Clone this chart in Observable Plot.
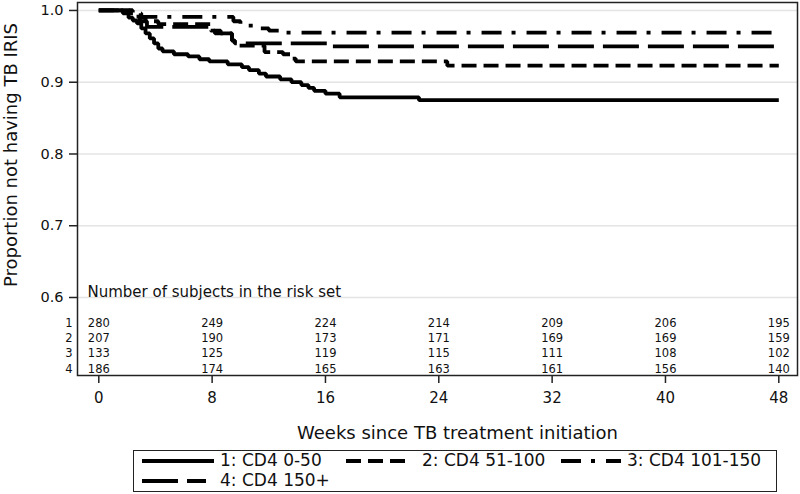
<!DOCTYPE html>
<html>
<head>
<meta charset="utf-8">
<script src="https://cdn.jsdelivr.net/npm/d3@7"></script>
<script src="https://cdn.jsdelivr.net/npm/@observablehq/plot@0.6"></script>
<style>
  html, body { margin: 0; padding: 0; background: #fff; }
  body { width: 800px; height: 494px; overflow: hidden; position: relative; font-family: "DejaVu Sans", sans-serif; }
  #legend {
    position: absolute; left: 133px; top: 450px; width: 642px; height: 40px;
    border: 1.5px solid #222;
    font-family: "DejaVu Sans", sans-serif; font-size: 17px; color: #111;
  }
  .sw { position: absolute; }
  .lt { position: absolute; line-height: 17px; white-space: nowrap; }
</style>
</head>
<body>
<div id="chart"></div>
<div id="legend"></div>
<script>
// ---- data ----
const groups = ["1: CD4 0-50", "2: CD4 51-100", "3: CD4 101-150", "4: CD4 150+"];
const xTicks = [0, 8, 16, 24, 32, 40, 48];
const yTicks = [0.6, 0.7, 0.8, 0.9, 1.0];

// Kaplan-Meier step curves (weeks, proportion not having TB IRIS)
const t1 = [0, 1.7, 2.1, 2.4, 2.7, 3.0, 3.3, 3.6, 3.9, 4.2, 4.5, 5.3, 6.3, 7.1, 7.8, 9.1, 10.1, 10.6, 11.3, 11.8, 12.8, 13.6, 14.3, 14.8, 15.2, 16.0, 17.0, 22.6, 48];
const s1 = [1, 0.996, 0.99, 0.986, 0.982, 0.975, 0.968, 0.961, 0.954, 0.947, 0.943, 0.939, 0.936, 0.932, 0.929, 0.925, 0.921, 0.917, 0.912, 0.908, 0.904, 0.900, 0.896, 0.892, 0.888, 0.884, 0.879, 0.875, 0.875];
const t2 = [0, 2.2, 2.8, 3.3, 4.2, 7.9, 8.6, 9.4, 9.6, 11.7, 13.0, 13.6, 13.9, 24.6, 48];
const s2 = [1, 0.996, 0.99, 0.985, 0.981, 0.972, 0.968, 0.958, 0.951, 0.942, 0.939, 0.933, 0.929, 0.923, 0.923];
const t3 = [0, 2.5, 3.0, 9.5, 10.0, 11.0, 12.0, 13.2, 48];
const s3 = [1, 0.996, 0.991, 0.985, 0.979, 0.975, 0.972, 0.969, 0.969];
const t4 = [0, 2.4, 2.9, 3.4, 7.8, 8.2, 9.4, 9.6, 16.4, 48];
const s4 = [1, 0.993, 0.985, 0.977, 0.972, 0.968, 0.958, 0.954, 0.950, 0.950];

// Number at risk
const riskWeeks = [0, 8, 16, 24, 32, 40, 48];
const risk1 = [280, 249, 224, 214, 209, 206, 195];
const risk2 = [207, 190, 173, 171, 169, 169, 159];
const risk3 = [133, 125, 119, 115, 111, 108, 102];
const risk4 = [186, 174, 165, 163, 161, 156, 140];
const riskLabels = ["1", "2", "3", "4"];

// ---- styles ----
const dashes = [null, "15,7", "20,10,4,11", "36,9"];
const lineW = 3.8;

const series = [[t1, s1], [t2, s2], [t3, s3], [t4, s4]].map(([t, s], i) =>
  t.map((w, j) => ({week: w, surv: s[j], group: groups[i]})));
const riskRows = [risk1, risk2, risk3, risk4].map(r => riskWeeks.map((w, j) => ({week: w, n: r[j]})));
const rowDy = [-52.2, -36.8, -21.8, -6.2];

const font = "DejaVu Sans, sans-serif";

const marks = [
  Plot.ruleY(yTicks, {stroke: "#e4e4e4", strokeWidth: 1.5}),
  Plot.axisX(xTicks, {tickSize: 8, tickPadding: 9, fontSize: 15, label: null, stroke: "#222", strokeWidth: 1.5}),
  Plot.axisY(yTicks, {tickSize: 8, tickPadding: 6, fontSize: 14.5, label: null, tickFormat: ".1f", stroke: "#222", strokeWidth: 1.5}),
  Plot.text(["Number of subjects in the risk set"], {frameAnchor: "bottom-left", dx: 10, dy: -83.1, textAnchor: "start", lineAnchor: "middle", fontSize: 15, fill: "#111"}),
  ...riskRows.map((rows, i) => Plot.text(rows, {x: "week", text: d => String(d.n), frameAnchor: "bottom", dy: rowDy[i], lineAnchor: "middle", fontSize: 11.5, fill: "#111"})),
  ...riskLabels.map((lab, i) => Plot.text([lab], {frameAnchor: "bottom-left", dx: -5, dy: rowDy[i], textAnchor: "end", lineAnchor: "middle", fontSize: 11.5, fill: "#111"})),
  Plot.text(["Weeks since TB treatment initiation"], {frameAnchor: "bottom", dx: 20, dy: 57.5, textAnchor: "middle", lineAnchor: "middle", fontSize: 18, fill: "#111"}),
  Plot.text(["Proportion not having TB IRIS"], {frameAnchor: "left", dx: -66.5, dy: -34, rotate: -90, textAnchor: "middle", lineAnchor: "middle", fontSize: 18, fill: "#111"}),
  ...[3, 2, 1, 0].map(i => Plot.line(series[i], {x: "week", y: "surv", curve: "step-after", stroke: "#000", strokeWidth: lineW, strokeDasharray: dashes[i], strokeLinecap: "butt", strokeLinejoin: "miter"})),
  Plot.frame({stroke: "#222", strokeWidth: 1.5})
];

const chart = Plot.plot({
  width: 800,
  height: 448,
  marginLeft: 77,
  marginRight: 3,
  marginTop: 2,
  marginBottom: 73,
  style: {fontFamily: font, background: "#fff", color: "#111"},
  x: {domain: [-1.503, 49.32]},
  y: {domain: [0.4913, 1.0111]},
  marks
});
document.getElementById("chart").appendChild(chart);

// ---- legend (positions relative to the box's inner left/top) ----
const legend = document.getElementById("legend");
const swX = [8, 212, 427, 8];
const swW = [72, 62, 60, 64];
const txX = [86, 288, 493, 86];
const rowY = [10, 30];
const rowOf = [0, 0, 0, 1];
groups.forEach((g, i) => {
  const w = swW[i];
  const s = document.createElement("div");
  s.className = "sw";
  s.style.left = swX[i] + "px";
  s.style.top = (rowY[rowOf[i]] - 5) + "px";
  s.innerHTML = `<svg width="${w}" height="10" style="display:block"><line x1="0" x2="${w}" y1="5" y2="5" stroke="#000" stroke-width="${lineW}" ${dashes[i] ? `stroke-dasharray="${dashes[i]}"` : ""}/></svg>`;
  legend.appendChild(s);
  const t = document.createElement("div");
  t.className = "lt";
  t.style.left = txX[i] + "px";
  t.style.top = (rowY[rowOf[i]] - 9) + "px";
  t.textContent = g;
  legend.appendChild(t);
});
</script>
</body>
</html>
